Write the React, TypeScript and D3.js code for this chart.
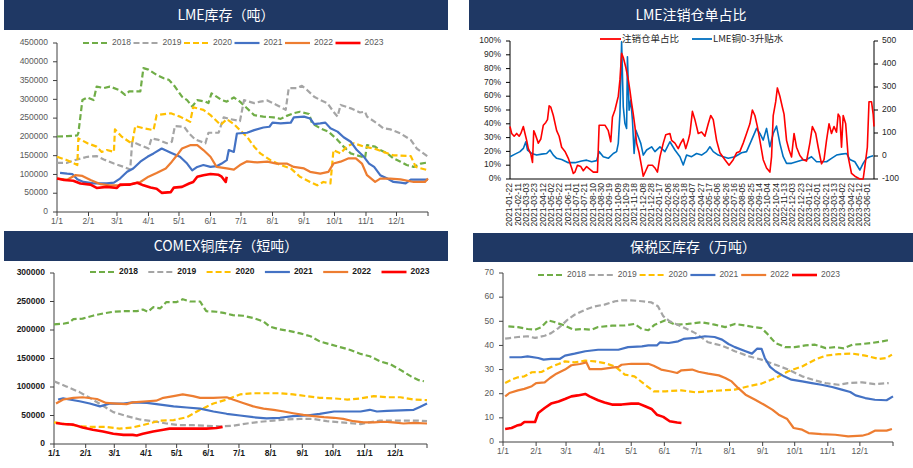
import React from 'react';
import * as d3 from 'd3';

// ---------- shared ----------
const YEARS = ['2018', '2019', '2020', '2021', '2022', '2023'];
const COLORS = ['#70ad47', '#a5a5a5', '#ffc000', '#4472c4', '#ed7d31', '#ff0000'];
const DASHED = [true, true, true, false, false, false];
const MONTH_LABELS = ['1/1', '2/1', '3/1', '4/1', '5/1', '6/1', '7/1', '8/1', '9/1', '10/1', '11/1', '12/1'];
const MONTH_STARTS = [0, 31, 59, 90, 120, 151, 181, 212, 243, 273, 304, 334];

// ---------- LME inventory (tons), [day of year, value] ----------
const LME_2018 = [[0,201000],[10,202000],[20,204000],[21,210000],[25,298000],[30,305000],[36,298000],[39,334000],[46,330000],[52,334000],[61,325000],[67,312000],[71,321000],[82,321000],[85,383000],[90,379000],[98,365000],[105,356000],[110,352000],[116,334000],[123,307000],[128,298000],[133,281000],[138,298000],[146,294000],[149,290000],[152,316000],[157,307000],[162,298000],[167,294000],[174,305000],[180,294000],[185,281000],[194,258000],[203,254000],[213,252000],[220,248000],[226,256000],[233,263000],[239,267000],[248,261000],[251,236000],[259,223000],[267,214000],[276,192000],[282,174000],[289,156000],[300,147000],[303,143000],[305,178000],[313,174000],[318,165000],[325,156000],[331,143000],[338,134000],[344,125000],[351,120000],[358,129000],[365,132000]];
const LME_2019 = [[0,131000],[10,131000],[20,140000],[30,147000],[39,149000],[46,140000],[56,129000],[66,120000],[72,113000],[74,187000],[82,178000],[90,169000],[93,196000],[100,192000],[108,183000],[113,187000],[116,229000],[125,227000],[130,209000],[136,193000],[146,183000],[149,211000],[159,211000],[164,252000],[171,247000],[180,242000],[184,298000],[194,290000],[200,294000],[207,297000],[216,285000],[225,272000],[228,330000],[236,330000],[241,336000],[246,325000],[253,307000],[259,298000],[266,290000],[272,267000],[276,254000],[279,285000],[289,276000],[298,265000],[303,267000],[305,254000],[315,236000],[321,223000],[328,220000],[338,209000],[348,192000],[354,169000],[365,147000]];
const LME_2020 = [[0,147000],[10,138000],[20,125000],[21,196000],[30,183000],[39,174000],[44,160000],[49,165000],[56,160000],[57,220000],[64,200000],[71,187000],[74,183000],[77,229000],[85,223000],[95,218000],[98,258000],[112,263000],[121,254000],[131,240000],[134,279000],[144,272000],[151,258000],[161,232000],[167,247000],[174,234000],[180,218000],[187,200000],[194,174000],[200,156000],[210,138000],[220,125000],[230,116000],[239,94000],[249,80000],[256,71000],[262,80000],[269,76000],[272,165000],[279,156000],[285,174000],[292,183000],[302,174000],[312,169000],[321,160000],[331,151000],[348,149000],[353,120000],[365,111000]];
const LME_2021 = [[3,104000],[10,102000],[15,101000],[20,87000],[26,80000],[36,76000],[49,76000],[56,78000],[62,89000],[69,107000],[75,116000],[82,134000],[89,147000],[95,156000],[103,169000],[112,158000],[121,147000],[128,129000],[133,111000],[138,120000],[144,125000],[151,120000],[157,122000],[162,129000],[167,138000],[169,165000],[174,160000],[177,209000],[187,211000],[194,218000],[203,225000],[209,227000],[212,238000],[220,236000],[230,238000],[233,252000],[243,254000],[249,249000],[253,234000],[259,236000],[264,238000],[269,223000],[276,214000],[282,199000],[289,187000],[295,165000],[302,147000],[307,129000],[312,120000],[318,98000],[325,89000],[331,80000],[338,78000],[343,76000],[348,86000],[365,86000]];
const LME_2022 = [[0,89000],[10,86000],[18,98000],[25,96000],[33,85000],[43,74000],[52,71000],[62,71000],[72,74000],[82,80000],[90,94000],[98,104000],[107,116000],[113,134000],[118,151000],[123,169000],[131,178000],[138,178000],[144,165000],[151,147000],[157,120000],[167,116000],[174,113000],[180,125000],[187,135000],[197,132000],[207,134000],[216,129000],[226,129000],[233,120000],[243,116000],[249,107000],[259,102000],[267,107000],[272,129000],[279,134000],[287,143000],[294,143000],[300,129000],[305,98000],[313,80000],[318,89000],[328,89000],[338,87000],[351,80000],[362,80000],[365,89000]];
const LME_2023 = [[0,89000],[7,85000],[16,83000],[23,76000],[33,73000],[39,64000],[49,67000],[59,64000],[62,73000],[72,73000],[79,78000],[85,71000],[92,65000],[98,62000],[103,51000],[112,53000],[115,65000],[123,67000],[130,76000],[134,80000],[138,94000],[144,98000],[151,101000],[159,99000],[162,94000],[166,80000],[167,94000]];
const LME_TICKS = [0, 50000, 100000, 150000, 200000, 250000, 300000, 350000, 400000, 450000];

// ---------- COMEX inventory (short tons) ----------
const COMEX_2018 = [[0,210000],[9,211000],[15,213000],[19,219000],[28,220000],[38,225000],[48,229000],[58,232000],[68,233000],[81,233000],[87,236000],[92,232000],[97,240000],[104,238000],[110,249000],[120,249000],[126,254000],[133,250000],[143,250000],[149,233000],[159,232000],[166,230000],[175,226000],[185,225000],[195,221000],[205,215000],[211,206000],[221,201000],[231,198000],[241,194000],[251,189000],[260,180000],[270,175000],[280,170000],[290,165000],[300,158000],[309,154000],[319,145000],[329,140000],[339,130000],[349,119000],[357,112000],[362,110000]];
const COMEX_2019 = [[0,110000],[12,101000],[25,91000],[35,81000],[48,67000],[58,56000],[71,49000],[84,43000],[97,40000],[110,36000],[123,33000],[136,33000],[149,32000],[162,31000],[175,32000],[189,36000],[202,39000],[215,41000],[228,43000],[241,44000],[254,44000],[267,40000],[280,38000],[293,36000],[300,35000],[306,37000],[319,41000],[332,41000],[345,41000],[358,41000],[365,40000]];
const COMEX_2020 = [[0,38000],[12,35000],[25,31000],[38,30000],[51,30000],[64,27000],[77,29000],[91,35000],[104,41000],[117,42000],[130,47000],[143,60000],[156,71000],[169,78000],[182,87000],[195,89000],[208,89000],[221,89000],[234,87000],[247,84000],[260,81000],[274,80000],[287,78000],[300,80000],[313,84000],[326,82000],[339,82000],[352,78000],[365,77000]];
const COMEX_2021 = [[4,78000],[9,80000],[15,78000],[25,75000],[35,71000],[45,66000],[55,71000],[68,71000],[77,73000],[91,72000],[104,69000],[117,66000],[130,64000],[143,62000],[156,57000],[169,53000],[182,50000],[195,47000],[208,45000],[221,46000],[234,49000],[247,50000],[260,53000],[274,57000],[287,57000],[300,57000],[309,60000],[316,57000],[326,58000],[339,59000],[352,60000],[358,65000],[365,71000]];
const COMEX_2022 = [[2,71000],[9,78000],[19,81000],[28,82000],[42,79000],[51,72000],[61,71000],[71,70000],[77,73000],[91,75000],[100,76000],[107,81000],[117,84000],[126,87000],[136,84000],[143,81000],[156,81000],[169,82000],[175,78000],[185,72000],[195,66000],[205,62000],[215,60000],[225,57000],[234,54000],[244,51000],[254,49000],[264,47000],[274,46000],[283,44000],[293,40000],[303,38000],[313,38000],[323,39000],[332,38000],[342,36000],[352,37000],[365,36000]];
const COMEX_2023 = [[2,37000],[9,35000],[19,34000],[28,29000],[38,25000],[48,22000],[58,18000],[68,16000],[77,16000],[81,15000],[87,18000],[97,22000],[107,25000],[113,27000],[123,27000],[136,27000],[149,27000],[159,28000],[165,30000]];
const COMEX_TICKS = [0, 50000, 100000, 150000, 200000, 250000, 300000];

// ---------- Bonded-zone inventory (10k tons) ----------
const BOND_2018 = [[5,47.9],[14,47.6],[23,46.8],[30,46.5],[36,47.6],[42,50.4],[48,49.7],[58,48.2],[66,46.5],[75,46.8],[83,46.5],[89,47.6],[102,48.2],[114,48.3],[123,48.9],[130,46.8],[136,46.3],[142,48.6],[152,50.4],[161,48.6],[173,48.9],[186,49.6],[198,48.6],[208,47.6],[217,48.9],[227,48.2],[236,47.5],[242,47.2],[248,44.5],[255,41.0],[264,39.3],[273,39.3],[283,40.0],[292,40.3],[302,38.9],[311,39.3],[319,38.8],[327,40.3],[336,40.6],[345,41.0],[355,41.7],[363,42.4]];
const BOND_2019 = [[2,42.8],[14,43.5],[23,43.8],[30,43.1],[39,44.0],[45,45.1],[52,47.2],[61,50.9],[67,52.7],[77,54.8],[86,56.2],[95,56.9],[105,58.3],[111,58.7],[120,58.7],[130,58.3],[139,57.8],[145,56.2],[150,52.1],[156,50.0],[167,47.9],[180,45.1],[192,41.3],[205,39.9],[217,37.6],[230,35.5],[242,34.1],[255,32.0],[267,30.0],[280,27.2],[292,25.5],[302,24.4],[314,23.7],[323,24.4],[336,24.7],[348,24.0],[361,24.4]];
const BOND_2020 = [[2,24.4],[8,25.8],[14,26.8],[20,27.2],[27,28.9],[36,29.0],[45,31.1],[52,32.3],[58,33.4],[67,33.0],[77,33.7],[86,33.4],[95,32.7],[105,31.3],[114,27.9],[123,27.2],[133,23.7],[141,21.0],[152,21.0],[167,21.4],[180,20.6],[192,21.0],[205,21.4],[217,21.7],[230,23.1],[242,24.2],[255,26.5],[267,29.3],[280,31.3],[292,34.1],[302,35.8],[314,36.4],[327,36.6],[339,35.8],[352,34.4],[359,34.8],[364,36.2]];
const BOND_2021 = [[6,35.1],[17,35.1],[23,35.5],[33,34.8],[38,34.1],[45,34.4],[53,34.4],[58,35.8],[67,36.6],[77,37.6],[89,38.2],[98,38.2],[108,38.2],[117,39.3],[130,39.6],[136,40.0],[144,40.0],[147,41.3],[155,41.0],[164,41.7],[169,42.7],[180,43.1],[189,43.8],[198,43.5],[205,42.4],[211,40.6],[217,39.3],[227,37.6],[233,36.6],[238,38.7],[242,38.6],[245,34.8],[250,31.1],[255,29.3],[263,27.2],[270,25.8],[280,25.1],[289,24.4],[298,23.7],[308,22.8],[317,21.7],[325,20.7],[330,19.3],[339,18.2],[348,17.5],[359,17.3],[365,18.9]];
const BOND_2022 = [[2,18.9],[6,20.3],[14,21.4],[20,22.0],[27,23.1],[31,24.4],[39,24.7],[44,26.5],[50,28.3],[58,30.0],[64,31.8],[72,32.3],[78,33.0],[81,30.2],[92,30.2],[102,30.8],[108,31.1],[111,32.0],[120,32.4],[136,32.4],[141,31.6],[148,30.0],[156,29.3],[163,28.6],[167,29.7],[177,30.0],[183,29.1],[192,28.3],[202,27.6],[208,26.5],[214,25.1],[220,22.4],[227,19.6],[236,17.5],[244,15.5],[252,13.4],[258,11.3],[266,9.5],[272,5.8],[280,5.1],[286,3.7],[298,3.3],[311,3.0],[323,2.3],[336,2.6],[342,3.3],[348,4.7],[359,4.7],[364,5.4]];
const BOND_2023 = [[2,5.4],[8,5.8],[13,6.8],[17,7.2],[20,8.3],[30,8.3],[33,12.0],[39,14.1],[45,15.9],[52,16.8],[58,17.8],[64,18.9],[70,19.3],[77,19.9],[81,18.9],[89,17.3],[95,16.4],[102,15.5],[111,15.5],[120,15.9],[127,15.9],[133,14.8],[139,13.7],[144,11.3],[150,10.4],[156,8.6],[163,8.1],[167,7.9]];
const BOND_TICKS = [0, 10, 20, 30, 40, 50, 60, 70];

// ---------- LME cancelled warrants ratio (%) & 0-3 spread, [days since 2021-01-22, value] ----------
const CW_START = '2021-01-22';
const CW_END = '2023-06-15';
const CW_RATIO = [[0,38],[4,33],[10,31],[16,33],[22,31],[26,33],[32,38],[36,33],[40,28],[44,22],[50,18],[54,12],[57,35],[60,33],[68,26],[74,29],[80,39],[86,41],[90,43],[94,53],[98,52],[104,46],[112,35],[118,31],[124,23],[132,20],[140,15],[148,8],[152,4],[156,5],[162,10],[170,9],[176,6],[184,9],[192,7],[200,5],[210,5],[214,39],[228,39],[236,35],[242,27],[246,45],[252,50],[260,60],[264,72],[268,91],[272,88],[278,81],[284,72],[288,64],[292,55],[296,47],[300,38],[304,26],[310,19],[316,9],[320,2],[326,6],[332,10],[342,10],[348,8],[354,5],[360,16],[368,26],[374,32],[384,33],[388,28],[396,26],[404,22],[410,26],[416,29],[422,22],[428,28],[432,33],[438,49],[444,43],[452,33],[460,34],[468,31],[476,40],[482,46],[488,43],[496,28],[504,19],[516,14],[526,10],[536,14],[544,19],[552,20],[560,26],[568,33],[576,40],[582,50],[588,46],[594,38],[600,28],[608,14],[616,8],[624,5],[628,16],[632,46],[638,56],[642,66],[648,60],[654,52],[658,47],[664,28],[670,21],[676,16],[682,33],[688,23],[696,17],[704,14],[712,13],[720,26],[726,38],[734,33],[740,23],[748,11],[754,14],[760,28],[766,40],[772,33],[778,38],[784,34],[788,47],[792,45],[796,23],[800,46],[806,40],[812,16],[820,4],[828,2],[840,0],[848,0],[852,9],[858,23],[862,56],[868,56],[872,47],[874,38]];
const CW_SPREAD = [[0,-3],[12,8],[24,19],[32,33],[38,62],[42,26],[52,11],[64,4],[76,8],[88,11],[96,26],[104,4],[112,-10],[124,-15],[140,-29],[156,-29],[172,-22],[184,-18],[196,-25],[208,-20],[214,19],[224,-3],[236,-10],[248,11],[256,19],[260,55],[264,185],[268,496],[272,214],[276,141],[280,120],[282,431],[286,199],[290,243],[294,156],[298,11],[302,113],[308,84],[314,55],[320,4],[328,26],[340,40],[348,19],[360,40],[372,19],[384,62],[396,26],[408,-3],[416,-39],[424,4],[436,-3],[448,11],[460,4],[472,19],[480,40],[488,19],[500,4],[512,-3],[524,-10],[540,-3],[556,14],[568,19],[580,69],[592,120],[600,98],[608,69],[616,120],[624,40],[632,98],[640,130],[648,55],[656,-3],[664,-32],[676,-32],[688,-25],[700,-18],[712,-15],[724,-3],[736,-25],[748,-25],[760,-25],[772,-10],[784,4],[796,8],[808,11],[816,-15],[828,-25],[840,-61],[848,-32],[856,-10],[864,-3],[872,1]];
const CW_LEFT_TICKS = [0, 0.1, 0.2, 0.3, 0.4, 0.5, 0.6, 0.7, 0.8, 0.9, 1.0];
const CW_RIGHT_TICKS = [-100, 0, 100, 200, 300, 400, 500];
const CW_LEGEND = ['注销仓单占比', 'LME铜0-3升贴水'];

const NAVY = '#1f3864';
const FONT = '"Liberation Sans", "Noto Sans CJK SC", sans-serif';
const CJK = '"Noto Sans CJK SC", "Liberation Sans", sans-serif';

type Pt = number[];

function TitleBar({ x, y, w, h, text }: any) {
  return (
    <g>
      <rect x={x} y={y} width={w} height={h} fill={NAVY} />
      <text x={x + w / 2} y={y + h / 2 + 1} fill="#fff" fontSize={14} fontFamily={CJK}
        textAnchor="middle" dominantBaseline="middle">{text}</text>
    </g>
  );
}

function SeasonPanel(props: any) {
  const { x0, x1, yTop, yBot, ticks, series, bold, labelColor, legendX, legendStep, legendY, title } = props;
  const xs = d3.scaleLinear().domain([0, 365]).range([x0, x1]);
  const ys = d3.scaleLinear().domain([0, ticks[ticks.length - 1]]).range([yBot, yTop]);
  const line = d3.line<Pt>().x(d => xs(d[0])).y(d => ys(d[1]));
  const fw = bold ? 'bold' : 'normal';
  return (
    <g>
      <TitleBar {...title} />
      {/* axes */}
      <line x1={x0} x2={x0} y1={yTop} y2={yBot} stroke="#404040" strokeWidth={1} />
      <line x1={x0} x2={x1} y1={yBot} y2={yBot} stroke="#404040" strokeWidth={1} />
      {ticks.map((t: number) => (
        <g key={t}>
          <line x1={x0 - 4} x2={x0} y1={ys(t)} y2={ys(t)} stroke="#404040" />
          <text x={x0 - 9} y={ys(t)} textAnchor="end" dominantBaseline="middle" fontSize={8.5}
            fontFamily={FONT} fontWeight={fw} fill={labelColor}>{t}</text>
        </g>
      ))}
      {MONTH_STARTS.map((m, i) => (
        <g key={m}>
          <line x1={xs(m)} x2={xs(m)} y1={yBot} y2={yBot + 4} stroke="#404040" />
          <text x={xs(m)} y={yBot + 10} textAnchor="middle" dominantBaseline="middle" fontSize={8.5}
            fontFamily={FONT} fontWeight={fw} fill={labelColor}>{MONTH_LABELS[i]}</text>
        </g>
      ))}
      <line x1={x1} x2={x1} y1={yBot} y2={yBot + 4} stroke="#404040" />
      {/* series */}
      {series.map((s: Pt[], i: number) => (
        <path key={i} d={line(s) || ''} fill="none" stroke={COLORS[i]}
          strokeWidth={i === 5 ? 2.6 : 2.2} strokeDasharray={DASHED[i] ? '6,3' : undefined}
          strokeLinejoin="round" />
      ))}
      {/* legend */}
      {YEARS.map((yName, i) => {
        const lx = legendX + i * legendStep;
        return (
          <g key={yName}>
            <line x1={lx} x2={lx + 25} y1={legendY} y2={legendY} stroke={COLORS[i]}
              strokeWidth={i === 5 ? 2.6 : 2.2} strokeDasharray={DASHED[i] ? '6,3' : undefined} />
            <text x={lx + 29} y={legendY} dominantBaseline="middle" fontSize={8.5} fontFamily={FONT}
              fontWeight={fw} fill={labelColor}>{yName}</text>
          </g>
        );
      })}
    </g>
  );
}

function WarrantPanel() {
  const x0 = 510, x1 = 874, yTop = 41, yBot = 179;
  const start = d3.timeParse('%Y-%m-%d')(CW_START) as Date;
  const end = d3.timeParse('%Y-%m-%d')(CW_END) as Date;
  const xs = d3.scaleTime().domain([start, end]).range([x0, x1]);
  const yl = d3.scaleLinear().domain([0, 1]).range([yBot, yTop]);
  const yr = d3.scaleLinear().domain([-100, 500]).range([yBot, yTop]);
  const dx = (d: Pt) => xs(d3.timeDay.offset(start, d[0]));
  const redLine = d3.line<Pt>().x(dx).y(d => yl(d[1] / 100));
  const blueLine = d3.line<Pt>().x(dx).y(d => yr(d[1]));
  const labelDates = d3.timeDay.range(start, end, 20);
  const fmt = d3.timeFormat('%Y-%m-%d');
  const pct = d3.format('.0%');
  return (
    <g>
      <TitleBar x={469} y={0} w={444} h={30} text="LME注销仓单占比" />
      <line x1={x0} x2={x0} y1={yTop} y2={yBot} stroke="#000" />
      <line x1={x1} x2={x1} y1={yTop} y2={yBot} stroke="#000" />
      <line x1={x0} x2={x1} y1={yBot} y2={yBot} stroke="#000" />
      {CW_LEFT_TICKS.map(t => (
        <g key={t}>
          <line x1={x0 - 4} x2={x0} y1={yl(t)} y2={yl(t)} stroke="#000" />
          <text x={x0 - 9} y={yl(t)} textAnchor="end" dominantBaseline="middle" fontSize={8.5}
            fontFamily={FONT} fill="#262626">{pct(t)}</text>
        </g>
      ))}
      {CW_RIGHT_TICKS.map(t => (
        <g key={t}>
          <line x1={x1} x2={x1 + 4} y1={yr(t)} y2={yr(t)} stroke="#000" />
          <text x={x1 + 8} y={yr(t)} dominantBaseline="middle" fontSize={8.5}
            fontFamily={FONT} fill="#262626">{t}</text>
        </g>
      ))}
      {labelDates.map(d => (
        <g key={+d} transform={`translate(${xs(d)},${yBot + 4}) rotate(-90)`}>
          <text x={0} y={0} textAnchor="end" dominantBaseline="middle" fontSize={8.5}
            fontFamily={FONT} fill="#262626">{fmt(d)}</text>
        </g>
      ))}
      <path d={blueLine(CW_SPREAD as Pt[]) || ''} fill="none" stroke="#0070c0" strokeWidth={1.6} strokeLinejoin="round" />
      <path d={redLine(CW_RATIO as Pt[]) || ''} fill="none" stroke="#ff0000" strokeWidth={1.6} strokeLinejoin="round" />
      <line x1={600} x2={621} y1={39} y2={39} stroke="#ff0000" strokeWidth={1.8} />
      <text x={622} y={39} dominantBaseline="middle" fontSize={9.5} fontFamily={CJK} fill="#262626">{CW_LEGEND[0]}</text>
      <line x1={692} x2={712} y1={39} y2={39} stroke="#0070c0" strokeWidth={1.8} />
      <text x={713} y={39} dominantBaseline="middle" fontSize={9.5} fontFamily={CJK} fill="#262626">{CW_LEGEND[1]}</text>
    </g>
  );
}

export default function App() {
  return (
    <svg width={913} height={468} style={{ position: 'absolute', left: 0, top: 0, background: '#fff' }}>
      <rect width={913} height={468} fill="#fff" />
      <SeasonPanel x0={57} x1={428} yTop={43} yBot={212} ticks={LME_TICKS}
        series={[LME_2018, LME_2019, LME_2020, LME_2021, LME_2022, LME_2023]}
        bold={false} labelColor="#595959" legendX={83} legendStep={50.5} legendY={43}
        title={{ x: 4, y: 0, w: 444, h: 30, text: 'LME库存（吨）' }} />
      <WarrantPanel />
      <SeasonPanel x0={54} x1={427} yTop={273} yBot={444} ticks={COMEX_TICKS}
        series={[COMEX_2018, COMEX_2019, COMEX_2020, COMEX_2021, COMEX_2022, COMEX_2023]}
        bold={true} labelColor="#1a1a1a" legendX={90} legendStep={58.3} legendY={272}
        title={{ x: 4, y: 231, w: 444, h: 30, text: 'COMEX铜库存（短吨）' }} />
      <SeasonPanel x0={503} x1={893} yTop={273} yBot={442} ticks={BOND_TICKS}
        series={[BOND_2018, BOND_2019, BOND_2020, BOND_2021, BOND_2022, BOND_2023]}
        bold={false} labelColor="#595959" legendX={538} legendStep={50.8} legendY={275}
        title={{ x: 473, y: 233, w: 440, h: 29, text: '保税区库存（万吨）' }} />
    </svg>
  );
}
